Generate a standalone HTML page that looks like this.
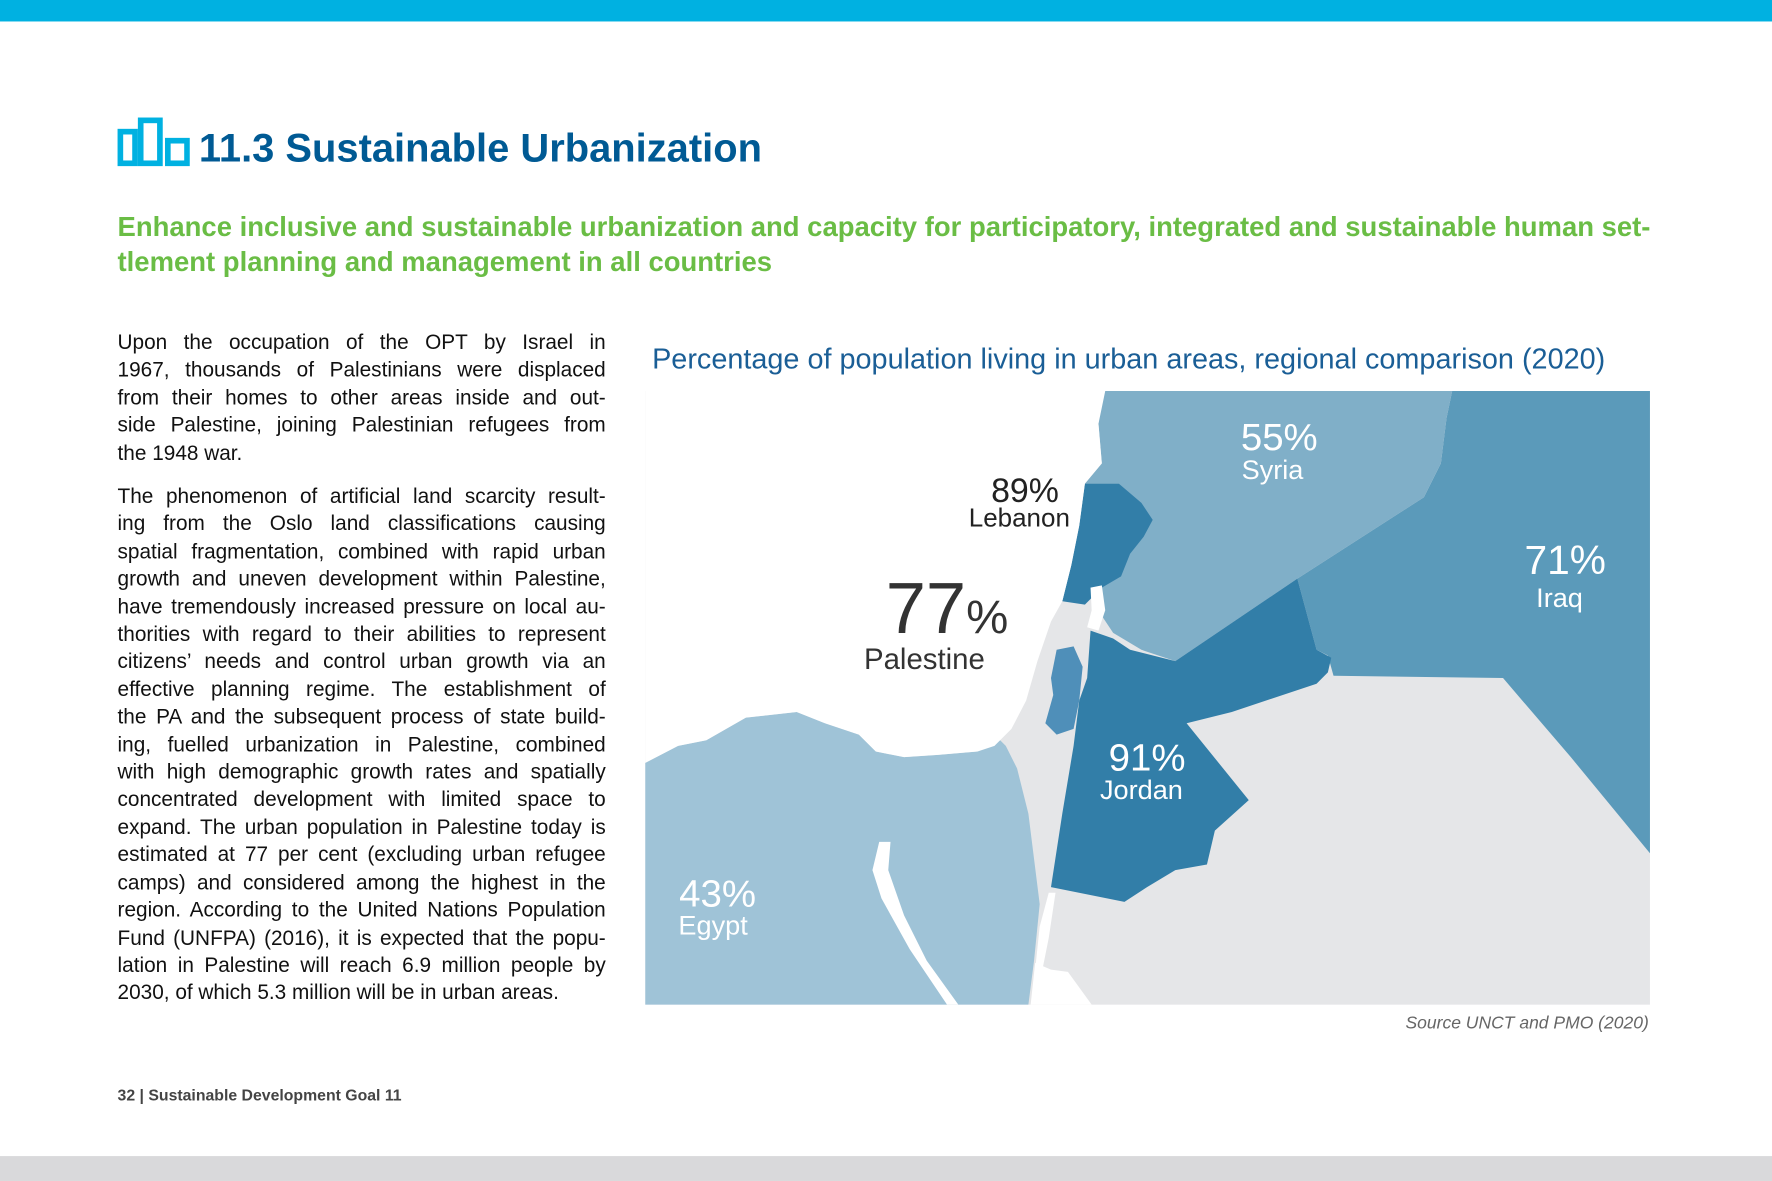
<!DOCTYPE html>
<html><head><meta charset="utf-8"><style>
*{margin:0;padding:0;box-sizing:border-box}
body{width:1772px;height:1181px;overflow:hidden;background:#fff;font-family:"Liberation Sans",sans-serif}
#page{position:absolute;left:0;top:0;width:1568px;height:1045px;transform:scale(1.13010);transform-origin:0 0}
.abs{position:absolute}
.body{left:104px;width:432px;font-size:18.4px;color:#111;line-height:24.4px}
.body div{text-align:justify;text-align-last:justify;white-space:nowrap}
.body div.l{text-align-last:left}
</style></head><body>
<div id="page">
<div class="abs" style="left:0;top:0;width:1568px;height:19px;background:#00b1e1"></div>
<svg class="abs" style="left:104px;top:104px" width="64" height="44">
<rect x="2.5" y="12.5" width="13" height="28" fill="none" stroke="#00b1e1" stroke-width="5"/>
<rect x="20.5" y="2.5" width="17" height="38" fill="none" stroke="#00b1e1" stroke-width="5"/>
<rect x="44.5" y="20.5" width="17" height="20" fill="none" stroke="#00b1e1" stroke-width="5"/>
</svg>
<div class="abs" style="left:176px;top:112px;font-size:35.3px;font-weight:bold;color:#005a94">11.3 Sustainable Urbanization</div>
<div class="abs" style="left:104px;top:186px;width:1400px;font-size:24.3px;font-weight:bold;color:#6abd45;line-height:31px;white-space:nowrap">Enhance inclusive and sustainable urbanization and capacity for participatory, integrated and sustainable human set-<br>tlement planning and management in all countries</div>
<div class="abs body" style="top:291px">
<div>Upon the occupation of the OPT by Israel in</div>
<div>1967, thousands of Palestinians were displaced</div>
<div>from their homes to other areas inside and out-</div>
<div>side Palestine, joining Palestinian refugees from</div>
<div class="l">the 1948 war.</div>
</div>
<div class="abs body" style="top:427px">
<div>The phenomenon of artificial land scarcity result-</div>
<div>ing from the Oslo land classifications causing</div>
<div>spatial fragmentation, combined with rapid urban</div>
<div>growth and uneven development within Palestine,</div>
<div>have tremendously increased pressure on local au-</div>
<div>thorities with regard to their abilities to represent</div>
<div>citizens’ needs and control urban growth via an</div>
<div>effective planning regime. The establishment of</div>
<div>the PA and the subsequent process of state build-</div>
<div>ing, fuelled urbanization in Palestine, combined</div>
<div>with high demographic growth rates and spatially</div>
<div>concentrated development with limited space to</div>
<div>expand. The urban population in Palestine today is</div>
<div>estimated at 77 per cent (excluding urban refugee</div>
<div>camps) and considered among the highest in the</div>
<div>region. According to the United Nations Population</div>
<div>Fund (UNFPA) (2016), it is expected that the popu-</div>
<div>lation in Palestine will reach 6.9 million people by</div>
<div class="l">2030, of which 5.3 million will be in urban areas.</div>
</div>
<div class="abs" style="left:577px;top:304px;font-size:25.5px;color:#1a5e96;white-space:nowrap">Percentage of population living in urban areas, regional comparison (2020)</div>
<svg class="abs" id="map" style="left:0;top:0" width="1568" height="1045">
<rect x="571" y="346" width="889" height="543" fill="#e5e6e8"/>
<polygon fill="#5b9aba" points="1285,346 1460,346 1460,755 1390,670 1330,600 1180,598 1175,580 1165,575 1148,512 1260,440 1275,410 1280,370"/>
<polygon fill="#80afc8" points="975,346 1285,346 1280,370 1275,410 1260,440 1148,512 1040,585 1010,575 985,560 975,545 968,525 978,500 992,470 1010,460 990,428 960,428 975,410 972,375"/>
<polygon fill="#327ea8" points="960,428 990,428 1010,445 1020,460 1012,475 1000,490 992,510 975,520 960,535 940,532 948,500 955,465"/>
<polygon fill="#327ea8" points="965,558 985,565 1000,575 1040,585 1148,512 1165,575 1178,582 1175,595 1165,605 1090,630 1050,640 1105,708 1075,735 1068,765 1040,770 1015,785 995,798 930,785 940,720 950,660 955,620 962,600"/>
<polygon fill="#9fc3d7" points="571,675 600,660 625,655 660,635 705,630 730,640 760,650 775,665 800,670 830,668 865,665 885,655 890,660 900,680 910,720 915,760 920,800 915,850 910,889 571,889"/>
<polygon fill="#fff" points="778,745 788,745 786,770 800,810 820,850 848,889 838,889 805,840 780,795 772,770"/>
<polygon fill="#fff" points="571,346 978,346 972,375 975,410 960,428 955,465 948,500 940,532 930,550 918,585 908,620 895,645 880,660 865,665 830,668 800,670 775,665 760,650 730,640 705,630 660,635 625,655 600,660 571,675"/>
<polygon fill="#4f8fb9" points="935,575 950,572 958,590 955,620 950,645 935,650 925,640 932,615 930,600"/>
<polygon fill="#fff" points="928,790 934,790 928,830 922,860 916,858 920,820"/>
<polygon fill="#fff" points="912,889 916,852 930,858 945,860 966,889"/>
<polygon fill="#fff" points="965,520 975,518 978,540 972,558 962,555 966,540"/>
<g id="labels"></g>
</svg>
<div class="abs" style="left:1100px;top:897px;width:359px;text-align:right;font-size:15.5px;font-style:italic;color:#666">Source UNCT and PMO (2020)</div>
<div class="abs" style="left:104px;top:961px;font-size:14px;font-weight:bold;color:#444">32 | Sustainable Development Goal 11</div>
<div class="abs" style="left:0;top:1023px;width:1568px;height:22px;background:#d9d9db"></div>
</div>
<script>
const countries=["Syria","Lebanon","Palestine","Iraq","Jordan","Egypt"];
const urbanPct=[55,89,77,71,91,43];
const ns="http://www.w3.org/2000/svg";
const g=document.getElementById("labels");
const pos=[[1132,398,1126,424,34,24,"#fff"],[907,444,902,466,30,23,"#222"],[0,0,818,592,0,26,"#333"],[1385,508,1380,537,36,24,"#fff"],[1015,682,1010,707,34,24,"#fff"],[635,802,631,827,34,24,"#fff"]];
countries.forEach((c,i)=>{
 const p=pos[i];
 const t=document.createElementNS(ns,"text");
 
 
 t.setAttribute("x",c==="Palestine"?838:p[0]);t.setAttribute("y",c==="Palestine"?560:p[1]);
 t.setAttribute("text-anchor","middle");t.setAttribute("fill",p[6]);
 t.setAttribute("font-family","Liberation Sans, sans-serif");
 if(c==="Palestine"){
  t.setAttribute("font-size","64");
  t.innerHTML=urbanPct[i]+'<tspan font-size="42">%</tspan>';
 } else {t.setAttribute("font-size",p[4]);t.textContent=urbanPct[i]+"%";}
 g.appendChild(t);
 const n=document.createElementNS(ns,"text");
 
 
 n.setAttribute("x",p[2]);n.setAttribute("y",p[3]);n.setAttribute("text-anchor","middle");
 n.setAttribute("fill",p[6]);n.setAttribute("font-size",p[5]);
 n.setAttribute("font-family","Liberation Sans, sans-serif");
 n.textContent=c;g.appendChild(n);
});
</script>
</body></html>
